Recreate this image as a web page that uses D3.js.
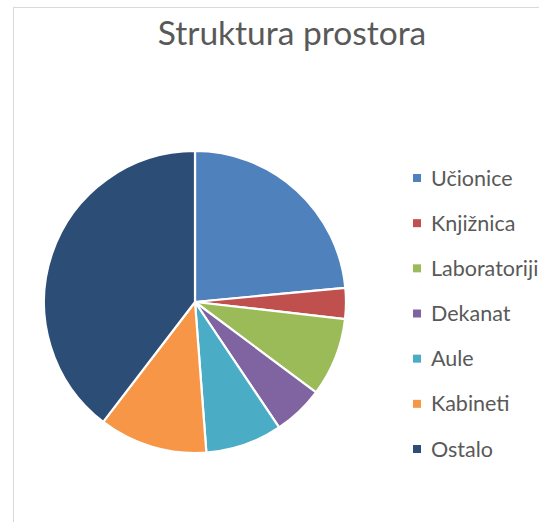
<!DOCTYPE html>
<html>
<head>
<meta charset="utf-8">
<script src="https://cdn.jsdelivr.net/npm/d3@7"></script>
<style>
  html, body { margin: 0; padding: 0; background: #ffffff; }
  svg { display: block; }
</style>
</head>
<body>
<svg id="chart" width="539" height="522"></svg>
<script>
// Space structure by category (share, %)
const categories = ["Učionice", "Knjižnica", "Laboratoriji", "Dekanat", "Aule", "Kabineti", "Ostalo"];
const values = [23.5, 3.3, 8.4, 5.4, 8.2, 11.6, 39.6];
const colors = ["#4F81BD", "#C0504D", "#9BBB59", "#8064A2", "#4BACC6", "#F79646", "#2C4D75"];
const title = "Struktura prostora";

const svg = d3.select("#chart");
const fontFamily = "Lato, 'Open Sans', sans-serif";
const textColor = "#595959";

// chart area frame (extends past the window on the right and bottom)
svg.append("rect")
  .attr("x", 13.5).attr("y", 7.5)
  .attr("width", 600).attr("height", 600)
  .attr("fill", "#ffffff")
  .attr("stroke", "#d9d9d9")
  .attr("stroke-width", 1);

svg.append("text")
  .attr("x", 292).attr("y", 45)
  .attr("text-anchor", "middle")
  .attr("font-family", fontFamily)
  .attr("font-size", 33.5)
  .attr("fill", textColor)
  .text(title);

const cx = 195, cy = 302, radius = 151;
const data = categories.map((c, i) => ({ name: c, value: values[i], color: colors[i] }));

const pie = d3.pie().value(d => d.value).sort(null);
const arc = d3.arc().innerRadius(0).outerRadius(radius);

svg.append("g")
  .attr("transform", `translate(${cx},${cy})`)
  .selectAll("path")
  .data(pie(data))
  .join("path")
  .attr("d", arc)
  .attr("fill", d => d.data.color)
  .attr("stroke", "#ffffff")
  .attr("stroke-width", 2.2)
  .attr("stroke-linejoin", "round");

// legend
const legendY = d3.scalePoint().domain(categories).range([178, 449]);
const legend = svg.append("g");
const items = legend.selectAll("g")
  .data(data)
  .join("g")
  .attr("transform", d => `translate(413,${legendY(d.name)})`);

items.append("rect")
  .attr("x", 0).attr("y", -4)
  .attr("width", 8).attr("height", 8)
  .attr("fill", d => d.color);

items.append("text")
  .attr("x", 18).attr("y", 7.5)
  .attr("font-family", fontFamily)
  .attr("font-size", 21.5)
  .attr("fill", textColor)
  .text(d => d.name);
</script>
</body>
</html>
